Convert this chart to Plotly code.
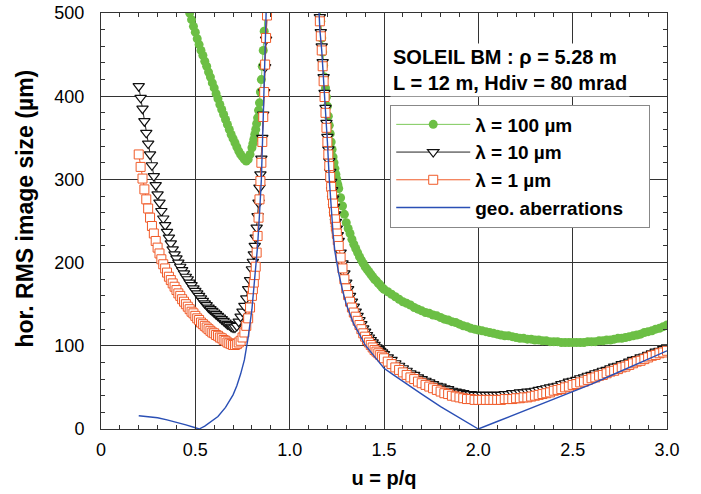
""" Horizontal RMS image size vs u = p/q """
import numpy as np
import plotly.graph_objects as go

# sampling of u = p/q (left branch below 1, right branch above 1)
u_left = np.arange(20, 81) / 100          # 0.20 .. 0.80
u_left_steep = np.arange(161, 177) / 200  # 0.805 .. 0.88
u_green_left = np.arange(46, 81) / 100    # 0.46 .. 0.80
u_green_steep = np.arange(161, 175) / 200 # 0.805 .. 0.87
u_right_a = np.arange(232, 253) / 200     # 1.16 .. 1.26
u_right_b = np.arange(127, 151) / 100     # 1.27 .. 1.50
u_right_c = np.arange(76, 151) / 50       # 1.52 .. 3.00

# lambda = 100 um (green dots)
green_left = [508, 500, 492, 484, 477, 469, 462, 455, 449, 442, 436, 429, 423, 416, 410,
              403, 397, 390, 384, 378, 372, 366, 360, 354, 349, 344, 339, 334, 330, 327,
              324, 322, 324, 330, 338]
green_steep = [343, 348, 354, 360, 367, 374, 383, 392, 405, 420, 436, 455, 478, 505]
green_right_a = [510, 490, 470, 453, 437, 423, 410, 399, 388, 376, 365, 355, 345, 336, 327,
                 320, 313, 306, 300, 294, 289]
green_right_b = [278, 268, 258, 248, 241, 235, 228, 222, 217, 212, 207, 203, 199, 195, 192,
                 189, 186, 183, 180, 178, 175, 173, 170, 168]
green_right_c = [165, 162, 159, 156, 153, 151, 149, 146, 144, 142, 140, 139, 137, 136, 134,
                 132, 131, 129, 128, 126, 124, 123, 121, 120, 119, 118, 117, 116, 115, 114,
                 113, 112, 112, 111, 110, 109, 109, 108, 108, 107, 107, 106, 106, 105, 105,
                 105, 104, 104, 104, 104, 104, 104, 104, 105, 105, 105, 106, 106, 107, 107,
                 108, 109, 109, 110, 111, 112, 113, 114, 116, 117, 118, 120, 121, 123, 125]

# lambda = 10 um (black triangles)
black_left = [412, 398, 385, 370, 356, 343, 330, 317, 304, 293, 282, 272, 262, 253, 245,
              237, 230, 223, 216, 210, 205, 200, 195, 191, 187, 183, 180, 176, 173, 169,
              166, 163, 160, 157, 154, 151, 149, 146, 144, 142, 140, 138, 136, 134, 132,
              130, 128, 126, 125, 123, 122, 122, 124, 129, 135, 141, 148, 157, 168, 179, 192]
black_steep = [201, 210, 220, 230, 242, 256, 272, 290, 306, 325, 350, 378, 405, 435, 468, 500]
black_right_a = [495, 477, 460, 441, 423, 404, 386, 368, 351, 336, 322, 309, 297, 287, 277,
                 267, 258, 249, 241, 233, 226]
black_right_b = [212, 199, 187, 176, 168, 160, 153, 147, 141, 136, 131, 126, 121, 117, 113,
                 110, 107, 104, 101, 98, 96, 94, 92, 90]
black_right_c = [86, 83, 79, 76, 73, 70, 67, 65, 62, 60, 58, 56, 54, 52, 51,
                 49, 48, 46, 45, 44, 43, 42, 42, 41, 41, 41, 41, 41, 41, 41,
                 41, 42, 42, 43, 43, 44, 44, 45, 45, 46, 47, 48, 49, 50, 51,
                 52, 54, 55, 57, 58, 59, 61, 62, 64, 65, 67, 68, 70, 71, 73,
                 75, 76, 78, 79, 81, 83, 84, 86, 87, 89, 91, 93, 94, 96, 98]

# lambda = 1 um (orange squares)
red_left = [330, 315, 301, 288, 276, 265, 254, 244, 235, 226, 218, 211, 204, 198, 193,
            188, 183, 179, 175, 171, 167, 163, 160, 156, 153, 150, 147, 144, 141, 139,
            136, 133, 131, 128, 126, 124, 122, 120, 118, 116, 115, 113, 112, 110, 109,
            107, 106, 104, 103, 102, 101, 101, 102, 104, 106, 110, 116, 124, 133, 146, 160]
red_steep = [168, 176, 185, 195, 212, 232, 254, 276, 298, 320, 345, 375, 405, 438, 470, 497]
red_right_a = [490, 472, 455, 436, 418, 399, 380, 362, 345, 330, 316, 303, 291, 281, 271,
               261, 252, 243, 235, 227, 220]
red_right_b = [206, 193, 180, 169, 161, 153, 146, 140, 135, 130, 125, 120, 115, 111, 107,
               104, 101, 98, 95, 93, 91, 89, 87, 85]
red_right_c = [81, 78, 74, 71, 68, 65, 62, 60, 57, 55, 53, 51, 49, 47, 45,
               43, 42, 40, 39, 38, 37, 36, 36, 35, 35, 35, 35, 35, 35, 35,
               35, 36, 36, 36, 37, 37, 38, 38, 39, 40, 41, 42, 43, 44, 46,
               47, 48, 50, 51, 53, 54, 56, 57, 59, 61, 62, 64, 65, 67, 69,
               70, 72, 74, 75, 77, 79, 81, 82, 84, 86, 88, 89, 91, 92, 94]

# geometric aberrations (blue line)
u_geo_left = [0.20, 0.25, 0.30, 0.35, 0.40, 0.45, 0.50, 0.52, 0.55, 0.58, 0.62, 0.66,
              0.70, 0.72, 0.74, 0.76, 0.78, 0.80, 0.82, 0.83, 0.84, 0.85, 0.86, 0.87, 0.88]
geo_left = [16, 15, 13.5, 11, 8.3, 5, 1.5, 0, 3.5, 8, 15, 26,
            41, 52, 66, 83, 110, 144, 190, 220, 258, 300, 375, 455, 540]
u_geo_right = [1.15, 1.16, 1.17, 1.18, 1.19, 1.20, 1.21, 1.22, 1.23, 1.24, 1.25, 1.26,
               1.28, 1.30, 1.32, 1.34, 1.36, 1.38, 1.40, 1.45, 1.50, 1.55, 1.60, 1.70,
               1.80, 1.90, 2.00, 2.10, 2.20, 2.30, 2.40, 2.50, 2.60, 2.70, 2.80, 2.90, 3.00]
geo_right = [530, 480, 455, 420, 385, 345, 300, 262, 235, 213, 197, 187,
             167, 150, 138, 126, 118, 110, 101, 87, 73, 65, 57, 42,
             27, 13, 0, 9, 18, 27, 36, 45, 54, 64, 74, 84, 94]

x_ticks = [0, 0.5, 1.0, 1.5, 2.0, 2.5, 3.0]
x_tick_text = ["0", "0.5", "1.0", "1.5", "2.0", "2.5", "3.0"]
y_ticks = [0, 100, 200, 300, 400, 500]

FONT = "Arial, Liberation Sans, sans-serif"


def branches(u_l, v_l, u_r, v_r):
    # left branch, gap at u = 1, right branch
    return list(u_l) + [None] + list(u_r), list(v_l) + [None] + list(v_r)


u_right = list(u_right_a) + list(u_right_b) + list(u_right_c)
gx, gy = branches(list(u_green_left) + list(u_green_steep), green_left + green_steep,
                  u_right, green_right_a + green_right_b + green_right_c)
bx, by = branches(list(u_left) + list(u_left_steep), black_left + black_steep,
                  u_right, black_right_a + black_right_b + black_right_c)
rx, ry = branches(list(u_left) + list(u_left_steep), red_left + red_steep,
                  u_right, red_right_a + red_right_b + red_right_c)
ax_, ay_ = branches(u_geo_left, geo_left, u_geo_right, geo_right)

fig = go.Figure()

fig.add_trace(go.Scatter(
    x=gx, y=gy, mode="lines+markers", name="<b>λ = 100 µm</b>",
    line=dict(color="#7cc95a", width=1),
    marker=dict(symbol="circle", size=9, color="#6cbf45", line=dict(width=0)),
))
fig.add_trace(go.Scatter(
    x=bx, y=by, mode="lines+markers", name="<b>λ = 10 µm</b>",
    line=dict(color="#222222", width=1),
    marker=dict(symbol="triangle-down", size=10, color="white",
                line=dict(color="#111111", width=1.2)),
))
fig.add_trace(go.Scatter(
    x=rx, y=ry, mode="lines+markers", name="<b>λ = 1 µm</b>",
    line=dict(color="#f05a28", width=1),
    marker=dict(symbol="square", size=9, color="white",
                line=dict(color="#f05a28", width=1)),
))
fig.add_trace(go.Scatter(
    x=ax_, y=ay_, mode="lines", name="<b>geo. aberrations</b>&nbsp;&nbsp;&nbsp;&nbsp;",
    line=dict(color="#2a4fb5", width=1.4),
))

axis_common = dict(
    showgrid=True, gridcolor="#333333", gridwidth=1,
    showline=True, linecolor="#333333", linewidth=1, mirror="allticks",
    ticks="inside", ticklen=5, tickcolor="#333333",
    tickfont=dict(family=FONT, size=18, color="black"),
    zeroline=False, automargin=False, ticklabeloverflow="allow",
)

fig.update_layout(
    width=701, height=494,
    margin=dict(l=101, r=34, t=13, b=65),
    paper_bgcolor="white", plot_bgcolor="white",
    font=dict(family=FONT, color="black"),
    showlegend=True,
    legend=dict(
        x=0.511, y=0.78, xanchor="left", yanchor="top",
        bgcolor="white", bordercolor="#888888", borderwidth=1,
        font=dict(family=FONT, size=19, color="black"),
        itemwidth=74,
    ),
    xaxis=dict(
        range=[0, 3], tickvals=x_ticks, ticktext=x_tick_text, ticklabelstandoff=4,
        minor=dict(dtick=0.1, ticks="inside", ticklen=4, tickcolor="#333333", showgrid=False),
        title=dict(text="<b>u = p/q</b>", font=dict(family=FONT, size=20), standoff=12),
        **axis_common,
    ),
    yaxis=dict(
        range=[0, 500], tickvals=y_ticks, ticklabelstandoff=12,
        minor=dict(dtick=20, ticks="inside", ticklen=4, tickcolor="#333333", showgrid=False),
        **axis_common,
    ),
    annotations=[
        dict(
            x=0.51, y=0.928, xref="paper", yref="paper", xanchor="left", yanchor="top",
            text="<b>SOLEIL BM : ρ = 5.28 m<br>L = 12 m, Hdiv = 80 mrad</b>",
            showarrow=False, align="left", bgcolor="white", borderpad=2,
            font=dict(family=FONT, size=20, color="black"),
        ),
        dict(
            x=-0.135, y=0.529, xref="paper", yref="paper", xanchor="center", yanchor="middle",
            text="<b>hor. RMS image size (µm)</b>", textangle=-90, showarrow=False,
            font=dict(family=FONT, size=23, color="black"),
        ),
    ],
)

# drop the browser's default page margin so the figure sits at the window corner
fig.write_html("out.html", config={"displayModeBar": False},
               post_script="document.body.style.margin = '0';")
